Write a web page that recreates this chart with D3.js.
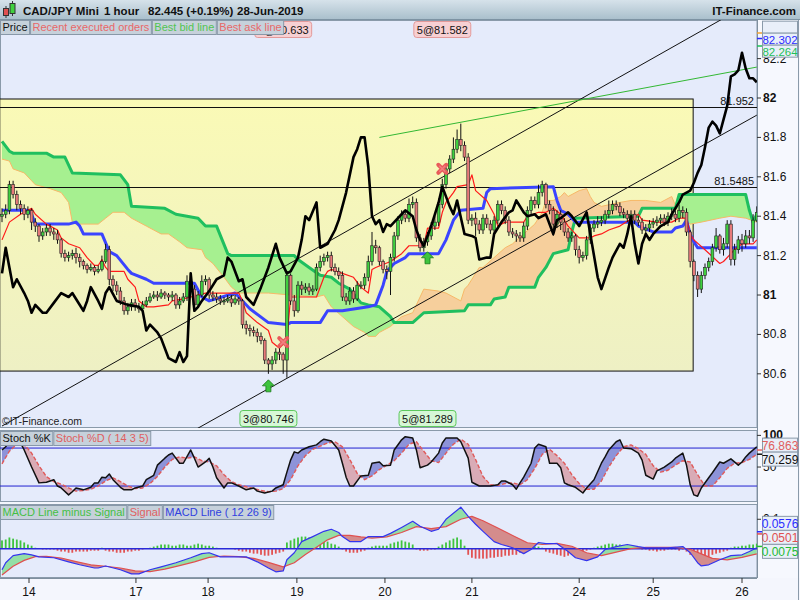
<!DOCTYPE html>
<html>
<head>
<meta charset="utf-8">
<script src="https://cdnjs.cloudflare.com/ajax/libs/d3/7.8.5/d3.min.js"></script>
<style>
body { margin: 0; background: #fff; }
svg { display: block; font-family: "Liberation Sans", Arial, sans-serif; }
</style>
</head>
<body>
<div id="chart"></div>
<script>
// hourly candles, bar 0 = 14 Jun 2019 early morning
const firstOpen = 81.40;
const closes = [81.41,81.43,81.56,81.51,81.46,81.44,81.41,81.43,81.37,81.35,
  81.30,81.32,81.34,81.32,81.31,81.28,81.21,81.19,81.20,81.21,
  81.19,81.17,81.15,81.13,81.14,81.12,81.13,81.17,81.23,81.08,
  81.05,81.02,80.97,80.92,80.94,80.96,80.94,80.93,80.95,80.97,
  80.99,81.00,80.99,81.01,81.00,80.99,81.00,80.95,80.97,80.99,
  81.07,81.03,80.95,81.00,81.07,81.08,81.00,80.99,80.98,80.97,
  80.97,80.98,80.96,80.98,80.97,80.85,80.83,80.82,80.81,80.79,
  80.77,80.67,80.65,80.67,80.71,80.70,80.67,81.10,80.97,80.92,
  81.05,81.03,81.04,81.02,81.03,81.14,81.17,81.19,81.20,81.14,
  81.12,81.10,80.99,80.97,81.02,80.98,81.05,81.05,81.09,81.17,
  81.25,81.24,81.17,81.13,81.12,81.19,81.30,81.38,81.41,81.39,
  81.46,81.47,81.29,81.24,81.27,81.30,81.35,81.37,81.46,81.56,
  81.64,81.69,81.74,81.79,81.76,81.70,81.38,81.39,81.36,81.33,
  81.39,81.36,81.33,81.38,81.46,81.43,81.38,81.32,81.31,81.30,
  81.29,81.35,81.43,81.48,81.46,81.52,81.56,81.46,81.43,81.36,
  81.41,81.37,81.32,81.29,81.30,81.23,81.19,81.20,81.28,81.34,
  81.36,81.37,81.38,81.41,81.43,81.46,81.45,81.42,81.41,81.39,
  81.41,81.38,81.37,81.33,81.34,81.36,81.37,81.38,81.39,81.37,
  81.40,81.41,81.39,81.43,81.42,81.32,81.17,81.10,81.03,81.10,
  81.14,81.17,81.24,81.30,81.23,81.26,81.36,81.18,81.23,81.28,
  81.26,81.30,81.29,81.38,81.42];
const highs = [81.44,81.46,81.58,81.58,81.53,81.48,81.46,81.45,81.44,81.39,
  81.36,81.34,81.36,81.36,81.34,81.33,81.29,81.23,81.22,81.23,
  81.24,81.21,81.18,81.16,81.16,81.15,81.15,81.20,81.26,81.25,
  81.10,81.07,81.04,80.99,80.96,80.98,80.98,80.96,80.97,80.99,
  81.01,81.02,81.02,81.03,81.02,81.01,81.02,81.01,80.99,81.01,
  81.10,81.09,81.05,81.02,81.10,81.10,81.09,81.02,81.01,81.00,
  80.99,81.00,81.00,81.00,80.99,80.98,80.87,80.85,80.84,80.83,
  80.81,80.78,80.68,80.69,80.73,80.73,80.71,81.12,81.11,81.00,
  81.07,81.07,81.06,81.06,81.05,81.16,81.20,81.21,81.22,81.22,
  81.16,81.14,81.12,81.01,81.04,81.04,81.07,81.07,81.11,81.20,
  81.32,81.28,81.25,81.18,81.15,81.21,81.32,81.40,81.43,81.43,
  81.49,81.50,81.49,81.31,81.29,81.32,81.37,81.40,81.49,81.59,
  81.66,81.71,81.80,81.84,81.87,81.78,81.72,81.41,81.42,81.38,
  81.41,81.41,81.38,81.40,81.48,81.48,81.45,81.40,81.34,81.33,
  81.32,81.37,81.45,81.50,81.50,81.56,81.58,81.57,81.48,81.45,
  81.43,81.43,81.39,81.34,81.32,81.31,81.25,81.22,81.30,81.36,
  81.38,81.40,81.40,81.43,81.48,81.48,81.48,81.47,81.44,81.43,
  81.43,81.43,81.40,81.39,81.36,81.38,81.39,81.40,81.41,81.41,
  81.42,81.44,81.43,81.46,81.45,81.44,81.33,81.18,81.12,81.12,
  81.16,81.19,81.26,81.34,81.31,81.29,81.38,81.38,81.26,81.30,
  81.31,81.33,81.33,81.41,81.45];
const lows = [81.37,81.39,81.41,81.49,81.43,81.41,81.38,81.39,81.33,81.32,
  81.27,81.28,81.30,81.30,81.28,81.26,81.19,81.17,81.17,81.18,
  81.16,81.14,81.13,81.11,81.12,81.10,81.11,81.12,81.16,81.05,
  81.02,81.00,80.95,80.90,80.90,80.92,80.92,80.91,80.91,80.94,
  80.96,80.98,80.97,80.98,80.98,80.97,80.97,80.93,80.93,80.96,
  80.97,81.01,80.93,80.94,80.99,81.05,80.98,80.97,80.96,80.95,
  80.95,80.96,80.94,80.95,80.95,80.83,80.80,80.79,80.79,80.76,
  80.75,80.65,80.60,80.62,80.65,80.67,80.60,80.58,80.95,80.89,
  80.91,81.00,81.01,81.00,81.00,81.02,81.12,81.15,81.17,81.12,
  81.10,81.08,80.97,80.95,80.95,80.96,80.97,81.03,81.03,81.07,
  81.15,81.21,81.15,81.11,81.08,81.00,81.17,81.28,81.36,81.37,
  81.37,81.44,81.27,81.22,81.22,81.25,81.28,81.33,81.35,81.44,
  81.54,81.62,81.67,81.72,81.73,81.68,81.36,81.35,81.30,81.31,
  81.31,81.34,81.31,81.31,81.36,81.41,81.36,81.30,81.29,81.27,
  81.27,81.27,81.33,81.41,81.44,81.44,81.50,81.44,81.41,81.30,
  81.34,81.33,81.30,81.27,81.27,81.20,81.16,81.17,81.18,81.26,
  81.32,81.34,81.35,81.36,81.39,81.41,81.43,81.40,81.39,81.37,
  81.37,81.36,81.35,81.31,81.31,81.32,81.34,81.35,81.36,81.35,
  81.35,81.38,81.37,81.37,81.39,81.30,81.14,81.07,80.99,81.01,
  81.08,81.12,81.15,81.22,81.21,81.20,81.24,81.15,81.15,81.21,
  81.22,81.24,81.26,81.27,81.37];

// ichimoku lines, [bar, price]
const tenkan = [[0,81.28],[2,81.37],[5,81.41],[8,81.44],[9,81.41],[12,81.36],[15,81.33],[16,81.29],[18,81.26],[21,81.24],[23,81.19],[25,81.15],[26,81.15],[27,81.18],[28,81.14],[29,81.12],[33,81.12],[34,81.08],[36,81.04],[37,80.97],[39,80.94],[41,80.94],[45,80.95],[46,80.97],[49,80.98],[55,81.01],[64,81.01],[65,80.97],[66,80.91],[69,80.86],[72,80.82],[73,80.76],[75,80.73],[77,80.77],[78,80.99],[85,80.99],[87,81.09],[88,81.12],[89,81.13],[92,81.11],[95,81.09],[97,81.04],[99,81.01],[100,81.13],[101,81.14],[105,81.17],[108,81.21],[110,81.25],[114,81.25],[115,81.34],[118,81.34],[119,81.42],[120,81.47],[122,81.52],[123,81.55],[126,81.56],[127,81.61],[128,81.53],[131,81.48],[133,81.41],[134,81.35],[136,81.37],[141,81.37],[142,81.40],[145,81.42],[147,81.42],[149,81.44],[151,81.41],[153,81.35],[156,81.29],[159,81.29],[160,81.30],[162,81.31],[164,81.33],[167,81.35],[172,81.41],[173,81.38],[177,81.37],[181,81.37],[183,81.39],[185,81.39],[186,81.31],[187,81.28],[190,81.23],[194,81.16],[195,81.17],[198,81.23],[200,81.26],[203,81.26],[204,81.28]];
const kijun = [[0,81.43],[7,81.43],[8,81.41],[9,81.36],[18,81.36],[20,81.37],[21,81.35],[22,81.31],[27,81.31],[29,81.22],[31,81.20],[34,81.13],[35,81.11],[39,81.08],[41,81.06],[52,81.06],[54,80.99],[56,80.97],[63,81.01],[65,80.97],[67,80.93],[72,80.86],[77,80.85],[78,80.86],[86,80.86],[88,80.92],[92,80.92],[99,80.94],[101,80.95],[103,81.05],[104,81.12],[106,81.16],[109,81.19],[110,81.21],[118,81.21],[120,81.28],[122,81.38],[124,81.43],[130,81.44],[131,81.52],[132,81.54],[149,81.55],[150,81.48],[151,81.43],[153,81.41],[155,81.37],[171,81.37],[172,81.35],[176,81.32],[181,81.32],[182,81.34],[184,81.35],[185,81.38],[186,81.31],[187,81.27],[188,81.24],[204,81.24]];
const chikou = [[0,81.11],[1,81.24],[2,81.14],[3,81.04],[4,81.08],[6,81.01],[7,80.97],[8,80.91],[9,80.95],[11,80.91],[12,80.91],[14,80.96],[16,81.01],[18,80.99],[19,81.01],[22,80.92],[23,80.97],[24,81.04],[26,80.97],[27,80.93],[28,81.01],[29,81.04],[31,80.97],[34,80.95],[37,80.94],[38,80.92],[39,80.82],[40,80.85],[42,80.81],[43,80.78],[45,80.68],[47,80.66],[48,80.71],[49,80.66],[50,80.69],[51,81.11],[52,80.92],[53,80.94],[54,80.97],[56,81.02],[58,81.08],[60,81.10],[61,81.19],[62,81.17],[64,81.07],[65,81.08],[66,80.99],[68,80.95],[70,81.04],[72,81.14],[74,81.26],[75,81.19],[77,81.11],[78,81.12],[80,81.19],[81,81.28],[82,81.40],[83,81.38],[85,81.47],[86,81.24],[87,81.25],[88,81.26],[90,81.33],[91,81.38],[93,81.52],[95,81.70],[96,81.74],[97,81.80],[98,81.80],[99,81.65],[100,81.40],[101,81.36],[102,81.38],[103,81.32],[104,81.36],[105,81.35],[106,81.37],[108,81.41],[109,81.43],[111,81.40],[112,81.33],[113,81.28],[114,81.25],[116,81.35],[118,81.47],[119,81.55],[121,81.45],[122,81.41],[123,81.48],[125,81.31],[127,81.30],[128,81.29],[129,81.18],[131,81.19],[132,81.19],[133,81.31],[135,81.37],[137,81.42],[138,81.43],[139,81.48],[141,81.42],[142,81.40],[144,81.41],[145,81.39],[147,81.41],[149,81.31],[150,81.38],[151,81.39],[153,81.42],[154,81.40],[156,81.35],[158,81.42],[159,81.31],[161,81.09],[162,81.03],[164,81.14],[165,81.19],[167,81.26],[168,81.24],[169,81.31],[170,81.40],[171,81.26],[172,81.16],[173,81.26],[174,81.31],[175,81.28],[176,81.31],[178,81.35],[180,81.37],[181,81.41],[183,81.47],[184,81.51],[186,81.53],[187,81.57],[188,81.62],[189,81.66],[190,81.75],[191,81.85],[192,81.88],[193,81.86],[194,81.82],[195,81.89],[196,81.96],[197,82.11],[198,82.12],[199,82.14],[200,82.23],[201,82.15],[202,82.10],[203,82.10],[204,82.08]];
const spanA = [[0,81.69],[2,81.68],[3,81.64],[6,81.62],[8,81.58],[9,81.56],[13,81.54],[16,81.52],[18,81.47],[19,81.37],[20,81.36],[26,81.36],[28,81.39],[30,81.42],[33,81.42],[35,81.39],[39,81.35],[43,81.31],[45,81.31],[48,81.27],[50,81.24],[54,81.23],[55,81.19],[57,81.16],[60,81.09],[62,81.04],[64,81.01],[69,81.01],[72,81.01],[78,81.00],[85,80.99],[87,81.00],[89,80.94],[92,80.89],[95,80.84],[98,80.81],[99,80.79],[101,80.79],[102,80.81],[105,80.84],[108,80.89],[111,80.91],[113,80.99],[114,81.03],[118,81.02],[120,81.01],[124,80.97],[125,81.03],[126,81.05],[127,81.08],[129,81.14],[130,81.14],[133,81.19],[136,81.24],[138,81.26],[141,81.31],[144,81.36],[146,81.42],[147,81.48],[149,81.48],[151,81.50],[152,81.52],[153,81.50],[156,81.53],[158,81.54],[159,81.50],[160,81.47],[162,81.45],[167,81.47],[170,81.48],[174,81.48],[178,81.47],[181,81.50],[183,81.41],[186,81.36],[189,81.37],[194,81.39],[197,81.40],[201,81.39],[204,81.37]];
const spanB = [[0,81.78],[2,81.73],[3,81.72],[12,81.72],[14,81.70],[17,81.70],[19,81.62],[32,81.61],[34,81.56],[35,81.45],[44,81.44],[47,81.41],[50,81.40],[53,81.39],[55,81.35],[58,81.35],[61,81.21],[62,81.20],[79,81.20],[80,81.18],[83,81.14],[86,81.10],[89,81.09],[91,81.06],[94,81.03],[97,80.96],[99,80.95],[102,80.94],[105,80.89],[106,80.86],[111,80.86],[114,80.91],[125,80.92],[126,80.95],[132,80.95],[133,80.98],[136,80.99],[137,81.04],[144,81.04],[145,81.09],[147,81.14],[149,81.21],[153,81.23],[154,81.32],[155,81.39],[172,81.40],[173,81.44],[182,81.44],[183,81.51],[201,81.51],[202,81.43],[203,81.37],[204,81.41]];

// drawings
const trendLines = [[[0,80.335],[204,82.50]], [[0,79.767],[204,81.913]]];
const greenLine = [[102,81.80],[204,82.157]];
const levels = [81.952, 81.5485];
const zone = {from: -0.6, to: 186.8, top: 81.995, bottom: 80.614};
const orders = [
  {bar: 72, qty: 3, price: 80.746, side: "buy"},
  {bar: 115, qty: 5, price: 81.289, side: "buy"},
  {bar: 76, qty: 5, price: 80.633, side: "sell"},
  {bar: 119, qty: 5, price: 81.582, side: "sell"}
];

// stochastic (14 3 5)
const stochK = [[0,77],[1,82],[2,93],[4,85],[5,88],[6,77],[8,50],[10,25],[12,26],[14,30],[15,20],[16,17],[18,6],[19,11],[20,17],[22,14],[24,18],[25,25],[26,25],[27,34],[28,33],[29,39],[30,30],[32,18],[33,14],[35,14],[36,17],[38,20],[39,30],[41,37],[42,53],[44,64],[45,69],[46,72],[48,56],[49,56],[51,77],[52,64],[53,50],[55,58],[56,64],[57,50],[58,33],[60,17],[61,25],[62,25],[64,20],[66,14],[68,17],[69,12],[71,9],[73,12],[74,17],[76,22],[77,42],[78,61],[79,74],[80,72],[81,77],[83,82],[85,85],[86,90],[87,94],[89,91],[91,77],[92,56],[93,34],[94,20],[95,20],[97,36],[99,37],[100,56],[102,58],[103,52],[105,53],[106,77],[108,93],[109,98],[111,96],[112,77],[113,49],[115,53],[116,58],[118,72],[119,88],[120,96],[122,96],[123,96],[124,90],[126,64],[127,26],[129,20],[130,20],[132,20],[134,22],[135,28],[136,28],[138,22],[139,15],[140,25],[141,34],[143,56],[144,80],[145,86],[147,82],[148,56],[150,56],[151,49],[152,25],[153,22],[155,18],[157,9],[158,17],[160,30],[162,56],[163,66],[164,77],[166,90],[167,93],[168,80],[170,79],[172,72],[173,61],[174,37],[176,31],[177,44],[179,50],[181,58],[182,64],[184,72],[185,53],[186,22],[187,6],[188,4],[189,17],[191,33],[192,41],[194,58],[195,56],[197,63],[199,53],[200,58],[201,66],[202,72],[204,82]];
const stochD = [[0,55],[2,75],[4,86],[6,86],[8,72],[10,52],[12,35],[14,27],[16,23],[18,17],[20,12],[22,13],[24,15],[26,20],[28,28],[30,33],[32,27],[34,20],[36,16],[38,17],[40,24],[42,35],[44,50],[46,62],[48,66],[50,64],[52,66],[54,60],[56,58],[58,52],[60,38],[62,27],[64,22],[66,19],[68,16],[70,13],[72,11],[74,12],[76,16],[78,30],[80,52],[82,68],[84,78],[86,83],[88,88],[90,90],[92,82],[94,62],[96,40],[98,30],[100,36],[102,46],[104,53],[106,60],[108,72],[110,86],[112,90],[114,75],[116,60],[118,57],[120,72],[122,86],[124,94],[126,86],[128,62],[130,35],[132,22],[134,21],[136,24],[138,25],[140,22],[142,30],[144,48],[146,70],[148,78],[150,68],[152,56],[154,38],[156,24],[158,15],[160,15],[162,28],[164,50],[166,68],[168,82],[170,85],[172,79],[174,70],[176,52],[178,42],[180,45],[182,53],[184,60],[186,58],[188,38],[190,20],[192,20],[194,33],[196,48],[198,56],[200,57],[202,62],[204,70]];

// MACD (12 26 9)
const macdLine = [[0,-0.072],[1,-0.048],[3,-0.024],[6,-0.017],[8,-0.021],[10,-0.028],[14,-0.031],[18,-0.045],[21,-0.055],[25,-0.066],[26,-0.066],[28,-0.059],[32,-0.072],[35,-0.086],[37,-0.086],[40,-0.072],[43,-0.062],[47,-0.048],[51,-0.031],[54,-0.017],[56,-0.014],[59,-0.028],[62,-0.028],[66,-0.028],[69,-0.045],[72,-0.066],[74,-0.079],[76,-0.076],[77,-0.038],[79,-0.014],[81,0.024],[84,0.041],[87,0.059],[89,0.066],[91,0.055],[92,0.041],[94,0.024],[97,0.024],[99,0.041],[103,0.041],[105,0.052],[108,0.072],[111,0.093],[113,0.076],[116,0.059],[118,0.066],[120,0.100],[124,0.141],[126,0.110],[128,0.083],[130,0.059],[133,0.024],[135,0.014],[138,0.003],[141,-0.017],[143,-0.003],[145,0.021],[147,0.017],[150,0.017],[153,-0.010],[155,-0.031],[158,-0.041],[161,-0.028],[163,-0.003],[166,0.007],[169,0.014],[172,0.007],[174,0.003],[180,0.003],[184,0.007],[186,-0.014],[188,-0.048],[189,-0.059],[191,-0.055],[194,-0.038],[197,-0.024],[200,-0.021],[202,-0.010],[204,0.003]];
const signalLine = [[0,-0.090],[3,-0.060],[6,-0.040],[9,-0.027],[12,-0.026],[16,-0.032],[20,-0.044],[24,-0.055],[28,-0.060],[32,-0.066],[36,-0.076],[40,-0.078],[44,-0.070],[48,-0.058],[52,-0.045],[56,-0.030],[60,-0.025],[64,-0.027],[68,-0.033],[72,-0.047],[76,-0.062],[79,-0.048],[82,-0.020],[85,0.005],[88,0.030],[91,0.045],[94,0.045],[97,0.040],[100,0.036],[104,0.040],[108,0.055],[112,0.075],[116,0.068],[120,0.075],[124,0.100],[127,0.110],[130,0.095],[134,0.070],[138,0.045],[142,0.020],[146,0.014],[150,0.018],[154,0.008],[158,-0.014],[162,-0.024],[166,-0.012],[170,0.000],[174,0.004],[178,0.004],[182,0.004],[186,-0.002],[189,-0.018],[192,-0.033],[196,-0.038],[200,-0.030],[204,-0.018]];
const macdHist = [0.028,0.031,0.038,0.034,0.031,0.028,0.021,0.014,0.010,0.003,
  0.001,-0.003,-0.003,-0.003,-0.003,-0.007,-0.010,-0.010,-0.014,-0.014,
  -0.010,-0.010,-0.010,-0.010,-0.007,-0.007,-0.007,0.003,-0.007,-0.010,
  -0.010,-0.014,-0.014,-0.014,-0.010,-0.010,-0.007,-0.007,-0.003,0.001,
  0.003,0.007,0.010,0.014,0.014,0.014,0.010,0.010,0.014,0.014,
  0.010,0.010,0.014,0.017,0.014,0.010,0.010,0.007,0.003,0.001,
  0,-0.001,-0.001,-0.003,-0.007,-0.010,-0.010,-0.014,-0.017,-0.017,
  -0.021,-0.024,-0.024,-0.021,-0.017,-0.014,-0.010,0.021,0.028,0.034,
  0.038,0.041,0.041,0.038,0.038,0.034,0.031,0.028,0.024,0.017,
  0.014,0.007,-0.003,-0.010,-0.014,-0.014,-0.014,-0.010,-0.007,0.003,
  0.007,0.010,0.010,0.010,0.010,0.017,0.021,0.024,0.028,0.024,
  0.021,0.014,-0.003,-0.007,-0.007,-0.007,-0.003,-0.003,0.007,0.014,
  0.021,0.028,0.034,0.038,0.031,0.010,-0.021,-0.031,-0.034,-0.034,
  -0.034,-0.034,-0.031,-0.031,-0.028,-0.028,-0.024,-0.024,-0.021,-0.021,
  -0.014,-0.010,-0.007,0.003,0.007,0.007,0.003,-0.010,-0.014,-0.017,
  -0.021,-0.024,-0.028,-0.024,-0.021,-0.017,-0.014,-0.010,-0.007,-0.003,
  0.003,0.007,0.010,0.014,0.017,0.017,0.014,0.014,0.010,0.010,
  0.007,0.007,0.003,-0.003,-0.003,-0.007,-0.007,-0.010,-0.007,-0.007,
  -0.003,-0.003,-0.003,-0.007,-0.003,-0.010,-0.021,-0.028,-0.034,-0.034,
  -0.031,-0.028,-0.021,-0.017,-0.014,-0.010,-0.007,0.003,0.007,0.007,
  0.010,0.010,0.014,0.014,0.017];

// axes
const priceTicks = [80.6, 80.8, 81, 81.2, 81.4, 81.6, 81.8, 82, 82.2];
const dayBars = [7.3, 36.2, 55.7, 79.7, 103.5, 127, 156, 176, 200];
const dayLabels = ["14", "17", "18", "19", "20", "21", "24", "25", "26"];
const mainLast = [{v: 82.330, label: "", color: "#f0a030"}, {v: 82.302, label: "82.302", color: "#2b2bff"}, {v: 82.264, label: "82.264", color: "#1fbf5a"}];
const stochLast = [{v: 76.863, label: "76.863", color: "#e06060"}, {v: 70.259, label: "70.259", color: "#111"}];
const macdLast = [{v: 0.0576, label: "0.0576", color: "#2b2bff"}, {v: 0.0501, label: "0.0501", color: "#e05050"}, {v: 0.0075, label: "0.0075", color: "#22bb33"}];

const W = 800, H = 600, plotR = 757;
const mainTop = 20, mainBot = 428, stTop = 430, stBot = 502, mdTop = 504, mdBot = 578;

const x = d3.scaleLinear().domain([0, 204]).range([2, 756.8]);
const y = d3.scaleLinear().domain([80.325, 82.396]).range([mainBot, mainTop]);
const yS = d3.scaleLinear().domain([-5.2, 108.5]).range([stBot, stTop]);
const yM = d3.scaleLinear().domain([-0.1, 0.152]).range([mdBot, mdTop]);

const svg = d3.select("#chart").append("svg").attr("width", W).attr("height", H);
const defs = svg.append("defs");

let g1 = defs.append("linearGradient").attr("id", "yel").attr("x1", 0).attr("y1", 0).attr("x2", 0).attr("y2", 1);
g1.append("stop").attr("offset", "0%").attr("stop-color", "#fafab6");
g1.append("stop").attr("offset", "100%").attr("stop-color", "#eef0c4");
let g2 = defs.append("linearGradient").attr("id", "head").attr("x1", 0).attr("y1", 0).attr("x2", 0).attr("y2", 1);
g2.append("stop").attr("offset", "0%").attr("stop-color", "#d6e2ea");
g2.append("stop").attr("offset", "100%").attr("stop-color", "#a9bfcc");

function clipRect(id, y0, y1) {
  defs.append("clipPath").attr("id", id).append("rect")
    .attr("x", 0).attr("y", y0).attr("width", plotR).attr("height", y1 - y0);
}
clipRect("cMain", mainTop, mainBot);
clipRect("cSt", stTop, stBot);
clipRect("cMd", mdTop, mdBot);

// backgrounds
svg.append("rect").attr("width", W).attr("height", H).attr("fill", "#f4f6fd");
[[mainTop, mainBot], [stTop, stBot], [mdTop, mdBot]].forEach(p => {
  svg.append("rect").attr("x", 0.5).attr("y", p[0] + 0.5).attr("width", plotR - 0.5).attr("height", p[1] - p[0] - 1)
    .attr("fill", "#e5ebfb").attr("stroke", "#8a9aaa");
});

let clipN = 0;
// fill where series a is above series b
function fillAbove(g, a, b, ys, top, bot, color) {
  const id = "fa" + (clipN++);
  defs.append("clipPath").attr("id", id).append("path")
    .attr("d", d3.area().x(d => x(d[0])).y0(top).y1(d => ys(d[1]))(b));
  g.append("path").attr("clip-path", `url(#${id})`).attr("fill", color)
    .attr("d", d3.area().x(d => x(d[0])).y0(d => ys(d[1])).y1(bot)(a));
}
function drawLine(g, data, ys, color, width, dash) {
  g.append("path").datum(data).attr("fill", "none").attr("stroke", color).attr("stroke-width", width)
    .attr("stroke-linejoin", "round").attr("stroke-dasharray", dash || null)
    .attr("d", d3.line().x(d => x(d[0])).y(d => ys(d[1])));
}

// ---- main panel ----
const gm = svg.append("g").attr("clip-path", "url(#cMain)");

gm.append("rect").attr("x", x(zone.from)).attr("y", y(zone.top))
  .attr("width", x(zone.to) - x(zone.from)).attr("height", y(zone.bottom) - y(zone.top))
  .attr("fill", "url(#yel)").attr("stroke", "#111").attr("stroke-width", 1);

fillAbove(gm, spanA, spanB, y, mainTop, mainBot, "#f6cf9c");
fillAbove(gm, spanB, spanA, y, mainTop, mainBot, "#a6f090");
drawLine(gm, spanA, y, "#f7b968", 1);
drawLine(gm, spanB, y, "#1fbf5f", 3);

levels.forEach(v => {
  gm.append("line").attr("x1", 0).attr("x2", plotR).attr("y1", Math.round(y(v)) + 0.5).attr("y2", Math.round(y(v)) + 0.5)
    .attr("stroke", "#111");
  gm.append("text").attr("x", plotR - 3).attr("y", y(v) - 2).attr("text-anchor", "end")
    .attr("font-size", 11).attr("fill", "#111").text(String(v));
});

trendLines.forEach(t => {
  gm.append("line").attr("x1", x(t[0][0])).attr("y1", y(t[0][1])).attr("x2", x(t[1][0])).attr("y2", y(t[1][1]))
    .attr("stroke", "#111").attr("stroke-width", 1);
});
gm.append("line").attr("x1", x(greenLine[0][0])).attr("y1", y(greenLine[0][1]))
  .attr("x2", x(greenLine[1][0])).attr("y2", y(greenLine[1][1])).attr("stroke", "#33b833").attr("stroke-width", 1);

drawLine(gm, kijun, y, "#3a44ff", 3);
drawLine(gm, tenkan, y, "#ff1a1a", 1.2);

const candles = closes.map((c, i) => ({i: i, o: i ? closes[i - 1] : firstOpen, h: highs[i], l: lows[i], c: c}));
gm.append("g").selectAll("line").data(candles).join("line")
  .attr("x1", d => x(d.i)).attr("x2", d => x(d.i))
  .attr("y1", d => y(d.h)).attr("y2", d => y(d.l))
  .attr("stroke", "#111").attr("stroke-width", 1);
gm.append("g").selectAll("rect").data(candles).join("rect")
  .attr("x", d => x(d.i) - 1.4).attr("width", 2.8)
  .attr("y", d => y(Math.max(d.o, d.c)))
  .attr("height", d => Math.max(1, Math.abs(y(d.o) - y(d.c))))
  .attr("fill", d => d.c >= d.o ? "#3fcf3f" : "#e77a7a")
  .attr("stroke", "#222").attr("stroke-width", 0.6);

drawLine(gm, chikou, y, "#000", 2.6);

// order markers
orders.forEach(o => {
  const cx = x(o.bar);
  if (o.side === "buy") {
    const cy = y(lows[o.bar]) + 12;
    gm.append("path").attr("transform", `translate(${cx},${cy})`)
      .attr("d", "M0,-6L6,0L2.5,0L2.5,6L-2.5,6L-2.5,0L-6,0Z")
      .attr("fill", "#3ec43e").attr("stroke", "#1a7a1a").attr("stroke-width", 0.8);
  } else {
    const cy = y(highs[o.bar]) - 10;
    const xg = gm.append("g").attr("transform", `translate(${cx},${cy})`);
    xg.append("path").attr("d", "M-4,-4L4,4M4,-4L-4,4").attr("stroke", "#e85a5a").attr("stroke-width", 4).attr("stroke-linecap", "round");
    xg.append("path").attr("d", "M-3,-3L3,3M3,-3L-3,3").attr("stroke", "#f08080").attr("stroke-width", 1.5);
  }
});

gm.append("text").attr("x", 2).attr("y", mainBot - 3).attr("font-size", 10.5).attr("fill", "#222").text("\u00a9IT-Finance.com");

// order labels
orders.forEach(o => {
  const buy = o.side === "buy";
  const by = buy ? mainBot - 17.5 : mainTop + 1.5;
  const g = svg.append("g");
  const t = g.append("text").attr("x", x(o.bar)).attr("y", by + 12).attr("text-anchor", "middle")
    .attr("font-size", 11).attr("fill", "#111").text(o.qty + "@" + o.price.toFixed(3));
  const w = t.node().getComputedTextLength() + 6;
  g.insert("rect", "text").attr("x", x(o.bar) - w / 2).attr("y", by).attr("width", w).attr("height", 16).attr("rx", 3)
    .attr("fill", buy ? "#d6f7d6" : "#f7d0d3").attr("stroke", buy ? "#5cc85c" : "#e39a9a");
});

// ---- stochastic panel ----
const gs = svg.append("g").attr("clip-path", "url(#cSt)");
fillAbove(gs, stochK, stochD, yS, stTop, stBot, "#8d93d9");
fillAbove(gs, stochD, stochK, yS, stTop, stBot, "#d9abb6");
[80, 20].forEach(v => gs.append("line").attr("x1", 0).attr("x2", plotR).attr("y1", yS(v)).attr("y2", yS(v))
  .attr("stroke", "#2020d0").attr("stroke-width", 1));
drawLine(gs, stochD, yS, "#e05a5a", 1.4, "4,2");
drawLine(gs, stochK, yS, "#111", 1.5);

// ---- MACD panel ----
const gd = svg.append("g").attr("clip-path", "url(#cMd)");
gd.append("g").selectAll("rect").data(macdHist).join("rect")
  .attr("x", (d, i) => x(i) - 0.9).attr("width", 1.8)
  .attr("y", d => d >= 0 ? yM(d) : yM(0)).attr("height", d => Math.abs(yM(d) - yM(0)))
  .attr("fill", d => d >= 0 ? "#3ec43e" : "#e25252");
fillAbove(gd, macdLine, signalLine, yM, mdTop, mdBot, "#93dfa6");
fillAbove(gd, signalLine, macdLine, yM, mdTop, mdBot, "#d48c8c");
gd.append("line").attr("x1", 0).attr("x2", plotR).attr("y1", yM(0)).attr("y2", yM(0)).attr("stroke", "#2a2ad8").attr("stroke-width", 1.5);
drawLine(gd, signalLine, yM, "#e05050", 1.2);
drawLine(gd, macdLine, yM, "#3434ee", 1.2);

// ---- right axis ----
svg.append("rect").attr("x", plotR).attr("y", mainTop).attr("width", W - plotR).attr("height", mdBot - mainTop).attr("fill", "#f6f8fe");
svg.append("line").attr("x1", plotR + 0.5).attr("x2", plotR + 0.5).attr("y1", mainTop).attr("y2", mdBot).attr("stroke", "#7f8f9f");
svg.append("line").attr("x1", 798.5).attr("x2", 798.5).attr("y1", mainTop).attr("y2", H).attr("stroke", "#8a9aaa");

function axisLabel(yy, text, bold) {
  svg.append("line").attr("x1", plotR).attr("x2", plotR + 4).attr("y1", yy).attr("y2", yy).attr("stroke", "#333");
  svg.append("text").attr("x", plotR + 6).attr("y", yy).attr("dominant-baseline", "central")
    .attr("font-size", 12).attr("font-weight", bold ? "bold" : "normal").attr("fill", "#111").text(text);
}
priceTicks.forEach(t => axisLabel(y(t), d3.format("~g")(t), Number.isInteger(t)));
axisLabel(yS(100), "100", true);
axisLabel(yS(50), "50", false);
axisLabel(yM(0.1), "0.1", false);

function lastBoxes(items, ys, step, h, fs) {
  const anchors = items.map(d => ys(d.v));
  const mid = d3.mean(anchors);
  items.forEach((d, k) => {
    const cy = mid + (k - (items.length - 1) / 2) * step;
    svg.append("line").attr("x1", plotR).attr("x2", plotR + 5).attr("y1", anchors[k]).attr("y2", anchors[k])
      .attr("stroke", d.color).attr("stroke-width", 1.5);
    svg.append("rect").attr("x", 762.5).attr("y", cy - h / 2).attr("width", 35).attr("height", h)
      .attr("fill", "#e9eff9").attr("stroke", "#8a9aaa");
    svg.append("text").attr("x", 780).attr("y", cy + 0.5).attr("text-anchor", "middle").attr("dominant-baseline", "central")
      .attr("font-size", fs).attr("fill", d.color).text(d.label);
  });
}
lastBoxes(mainLast, y, 12, 12, 11.5);
lastBoxes(stochLast, yS, 14, 14, 12);
lastBoxes(macdLast, yM, 14, 14, 12);

// ---- time axis ----
svg.append("line").attr("x1", 0).attr("x2", plotR).attr("y1", mdBot + 0.5).attr("y2", mdBot + 0.5).attr("stroke", "#7f8f9f");
dayBars.forEach((b, k) => {
  svg.append("line").attr("x1", x(b)).attr("x2", x(b)).attr("y1", mdBot).attr("y2", mdBot + 5).attr("stroke", "#333");
  svg.append("text").attr("x", x(b)).attr("y", 596).attr("text-anchor", "middle").attr("font-size", 12).attr("fill", "#111").text(dayLabels[k]);
});

// ---- legends ----
function legend(items, y0) {
  let cx = 0;
  items.forEach(it => {
    const g = svg.append("g");
    const t = g.append("text").attr("x", cx + 2.5).attr("y", y0 + 11).attr("font-size", 11).attr("fill", it[1]).text(it[0]);
    const w = t.node().getComputedTextLength() + 4;
    g.insert("rect", "text").attr("x", cx + 0.5).attr("y", y0 + 0.5).attr("width", w).attr("height", 14)
      .attr("fill", "#c6d1db").attr("stroke", "#8898a8");
    cx += w + 1;
  });
}
legend([["Price", "#111"], ["Recent executed orders", "#e86868"], ["Best bid line", "#52c452"], ["Best ask line", "#e86868"]], mainTop);
legend([["Stoch %K", "#111"], ["Stoch %D ( 14 3 5)", "#e06060"]], stTop + 1);
legend([["MACD Line minus Signal", "#44c044"], ["Signal", "#e06060"], ["MACD Line ( 12 26 9)", "#3040e0"]], mdTop + 1);

// ---- header ----
svg.append("rect").attr("width", W).attr("height", 19.5).attr("fill", "url(#head)");
svg.append("line").attr("x1", 0).attr("x2", W).attr("y1", 19.5).attr("y2", 19.5).attr("stroke", "#7d93a3");
svg.append("line").attr("x1", 6).attr("x2", 6).attr("y1", 6).attr("y2", 18).attr("stroke", "#333");
svg.append("rect").attr("x", 3.5).attr("y", 8.5).attr("width", 5).attr("height", 7).attr("fill", "#e05050").attr("stroke", "#333");
svg.append("line").attr("x1", 12.5).attr("x2", 12.5).attr("y1", 1).attr("y2", 16).attr("stroke", "#333");
svg.append("rect").attr("x", 10).attr("y", 3.5).attr("width", 5).attr("height", 10).attr("fill", "#40d040").attr("stroke", "#333");
[["CAD/JPY Mini", 23], ["1 hour", 104], ["82.445 (+0.19%)", 148], ["28-Jun-2019", 237]].forEach(t => {
  svg.append("text").attr("x", t[1]).attr("y", 14.5).attr("font-size", 11.5).attr("font-weight", "bold").attr("fill", "#111").text(t[0]);
});
svg.append("text").attr("x", 796).attr("y", 14.5).attr("text-anchor", "end").attr("font-size", 11.5)
  .attr("font-weight", "bold").attr("fill", "#111").text("IT-Finance.com");
</script>
</body>
</html>
